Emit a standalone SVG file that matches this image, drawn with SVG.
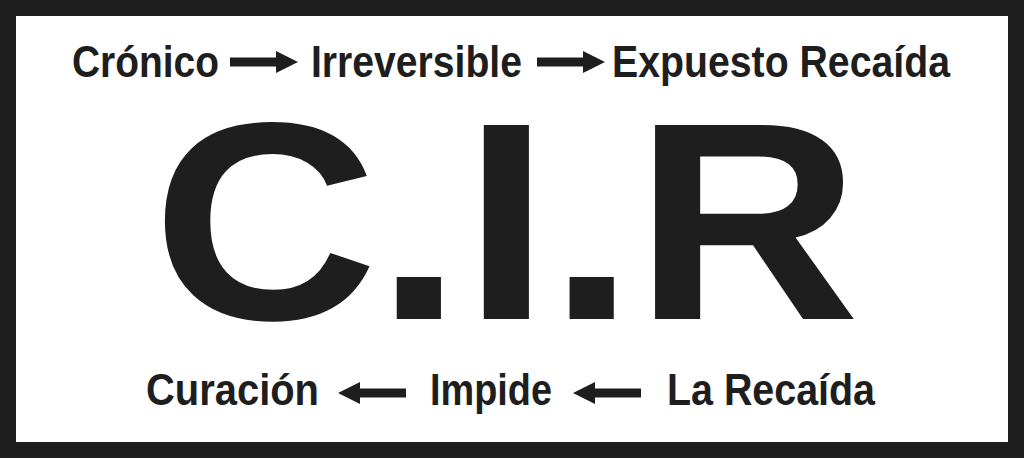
<svg xmlns="http://www.w3.org/2000/svg" width="1024" height="459" viewBox="0 0 1024 459">
  <style>
    .lbl { font-family: "Liberation Sans", Arial, sans-serif; font-weight: bold; font-size: 44px; fill: #1e1e1e; }
    .big { font-family: "Liberation Sans", Arial, sans-serif; font-weight: bold; font-size: 282px; fill: #1e1e1e; }
    .arr { fill: #1e1e1e; }
  </style>
  <defs>
    <path id="arrowR" d="M0,-4.5 H46 V-11 L68,0 L46,11 V4.5 H0 Z"/>
  </defs>
  <rect x="8" y="8" width="1008" height="442" fill="#ffffff" stroke="#1e1e1e" stroke-width="16"/>
  <g id="title">
    <text class="big" transform="scale(1.11,1)" x="137 338.3 417 494 571.3" y="319">C.I.R</text>
  </g>
  <g id="node-cronico"><text class="lbl" x="72" y="77" textLength="147" lengthAdjust="spacingAndGlyphs">Crónico</text></g>
  <g id="node-irreversible"><text class="lbl" x="311" y="77" textLength="211" lengthAdjust="spacingAndGlyphs">Irreversible</text></g>
  <g id="node-expuesto"><text class="lbl" x="612" y="77" textLength="338" lengthAdjust="spacingAndGlyphs">Expuesto Recaída</text></g>
  <g id="node-curacion"><text class="lbl" x="146" y="405" textLength="173" lengthAdjust="spacingAndGlyphs">Curación</text></g>
  <g id="node-impide"><text class="lbl" x="430" y="405" textLength="122" lengthAdjust="spacingAndGlyphs">Impide</text></g>
  <g id="node-recaida"><text class="lbl" x="667" y="405" textLength="208" lengthAdjust="spacingAndGlyphs">La Recaída</text></g>
  <g id="connectors" class="arr">
    <use href="#arrowR" transform="translate(230,62)"/>
    <use href="#arrowR" transform="translate(537,62)"/>
    <use href="#arrowR" transform="translate(406,393) scale(-1,1)"/>
    <use href="#arrowR" transform="translate(641,393) scale(-1,1)"/>
  </g>
</svg>
